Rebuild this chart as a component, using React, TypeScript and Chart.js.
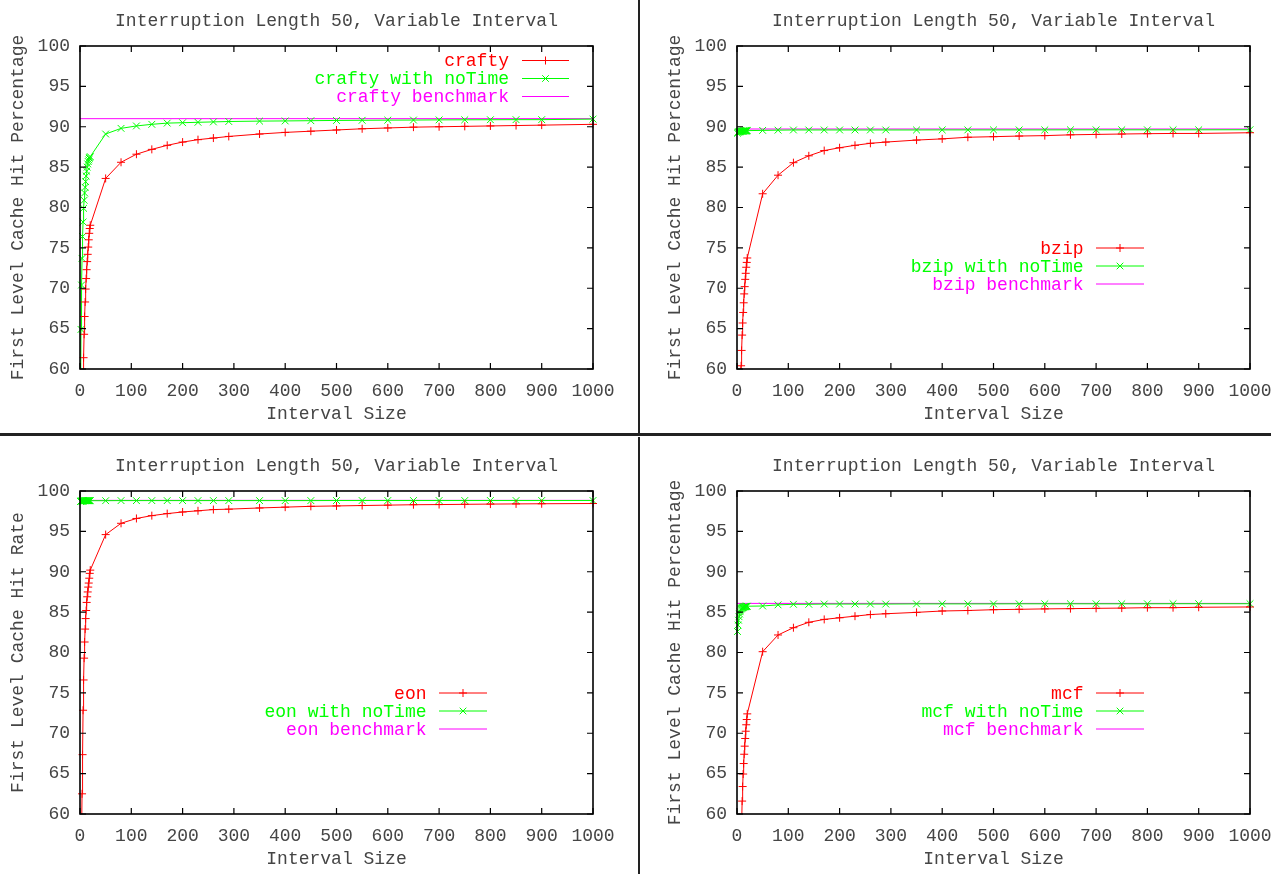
import React, { useEffect, useRef } from 'react';
import { Chart, registerables } from 'chart.js';

Chart.register(...registerables);

// ---------- data ----------
const intervalSizes = [
  1, 2, 3, 4, 5, 6, 7, 8, 9, 10, 11, 12, 13, 14, 15, 16, 17, 18, 19, 20,
  50, 80, 110, 140, 170, 200, 230, 260, 290, 350, 400, 450, 500, 550, 600, 650, 700, 750, 800, 850, 900, 1000,
];
const benchmarkX = [0, 1000];

const craftyHit = [
  25, 38, 46, 52, 56, 59, 61.4, 64.3, 66.5, 68.3, 69.9, 71.2, 72.3, 73.3, 74.2, 75.1, 76.0, 76.8, 77.4, 77.8,
  83.6, 85.6, 86.6, 87.2, 87.7, 88.1, 88.4, 88.6, 88.8, 89.1, 89.3, 89.45, 89.6, 89.75, 89.85, 89.95, 90.0, 90.05, 90.1, 90.15, 90.2, 90.3,
];
const craftyNoTime = [
  55, 64.9, 70.4, 73.7, 76.4, 78.2, 79.9, 80.9, 81.8, 82.5, 83.2, 83.9, 84.5, 85.0, 85.4, 85.7, 85.9, 86.1, 86.2, 86.3,
  89.1, 89.8, 90.1, 90.3, 90.45, 90.5, 90.55, 90.6, 90.65, 90.7, 90.72, 90.75, 90.78, 90.8, 90.82, 90.83, 90.85, 90.86, 90.87, 90.88, 90.88, 90.95,
];
const craftyBenchmark = [91.0, 91.0];

const bzipHit = [
  30, 40, 47, 52, 55.5, 58, 59.5, 60.4, 62.3, 64.2, 65.7, 67.0, 68.2, 69.3, 70.2, 71.1, 71.85, 72.6, 73.2, 73.75,
  81.7, 84.0, 85.55, 86.4, 87.05, 87.4, 87.7, 87.95, 88.1, 88.35, 88.5, 88.7, 88.77, 88.85, 88.9, 89.0, 89.05, 89.1, 89.14, 89.17, 89.17, 89.26,
];
const bzipNoTime = [
  89.2, 89.3, 89.35, 89.38, 89.4, 89.42, 89.43, 89.44, 89.45, 89.45, 89.46, 89.47, 89.48, 89.48, 89.49, 89.5, 89.5, 89.5, 89.51, 89.52,
  89.55, 89.58, 89.6, 89.6, 89.6, 89.6, 89.6, 89.6, 89.6, 89.6, 89.61, 89.61, 89.61, 89.61, 89.61, 89.62, 89.62, 89.62, 89.62, 89.62, 89.62, 89.63,
];
const bzipBenchmark = [89.72, 89.72];

const eonHit = [
  35, 50, 57, 62.5, 67.35, 72.85, 76.6, 79.3, 81.3, 82.9, 84.2, 85.2, 86.2, 86.9, 87.5, 88.1, 88.6, 89.2, 89.8, 90.2,
  94.6, 96.0, 96.6, 96.95, 97.2, 97.4, 97.55, 97.7, 97.75, 97.9, 98.0, 98.1, 98.15, 98.2, 98.25, 98.3, 98.32, 98.35, 98.38, 98.4, 98.42, 98.45,
];
const eonNoTime = [
  98.7, 98.74, 98.76, 98.77, 98.78, 98.78, 98.79, 98.79, 98.79, 98.8, 98.8, 98.8, 98.8, 98.8, 98.8, 98.8, 98.8, 98.8, 98.8, 98.8,
  98.8, 98.81, 98.81, 98.81, 98.81, 98.81, 98.81, 98.81, 98.81, 98.81, 98.81, 98.81, 98.82, 98.82, 98.82, 98.82, 98.82, 98.82, 98.82, 98.82, 98.82, 98.82,
];
const eonBenchmark = [98.84, 98.84];

const mcfHit = [
  15, 25, 33, 40, 45, 49, 52.5, 55.5, 58.5, 61.6, 63.4, 64.95, 66.25, 67.4, 68.4, 69.35, 70.25, 71.05, 71.7, 72.4,
  80.1, 82.17, 83.07, 83.74, 84.1, 84.3, 84.5, 84.7, 84.8, 84.97, 85.14, 85.2, 85.3, 85.35, 85.4, 85.43, 85.47, 85.5, 85.55, 85.55, 85.6, 85.64,
];
const mcfNoTime = [
  82.6, 83.4, 84.0, 84.43, 84.77, 85.05, 85.26, 85.4, 85.47, 85.52, 85.56, 85.6, 85.62, 85.64, 85.66, 85.68, 85.7, 85.71, 85.72, 85.73,
  85.76, 85.9, 85.97, 85.97, 86.0, 86.0, 86.0, 86.0, 86.0, 86.02, 86.02, 86.02, 86.02, 86.03, 86.03, 86.03, 86.03, 86.03, 86.03, 86.04, 86.04, 86.04,
];
const mcfBenchmark = [86.08, 86.08];

const chartTitle = 'Interruption Length 50, Variable Interval';
const xTitle = 'Interval Size';

// ---------- styling ----------
const FONT = '"Liberation Mono", "DejaVu Sans Mono", monospace';
const TEXT = '#454545';
const RED = '#ff0000';
const GREEN = '#00ff00';
const MAGENTA = '#ff00ff';
const CW = 637;
const CH = 432;

type LegendOpts = { textRight: number; sampleLeft: number; sampleRight: number; top: number; gap: number };

const framePlugin = {
  id: 'gnuFrame',
  afterDatasetsDraw(chart: any) {
    const { ctx, chartArea: a, scales } = chart;
    const L = 6;
    ctx.save();
    ctx.strokeStyle = '#000';
    ctx.lineWidth = 1.6;
    ctx.strokeRect(a.left, a.top, a.right - a.left, a.bottom - a.top);
    ctx.lineWidth = 1.2;
    ctx.beginPath();
    scales.x.ticks.forEach((t: any) => {
      const px = scales.x.getPixelForValue(t.value);
      ctx.moveTo(px, a.bottom);
      ctx.lineTo(px, a.bottom - L);
      ctx.moveTo(px, a.top);
      ctx.lineTo(px, a.top + L);
    });
    scales.y.ticks.forEach((t: any) => {
      const py = scales.y.getPixelForValue(t.value);
      ctx.moveTo(a.left, py);
      ctx.lineTo(a.left + L, py);
      ctx.moveTo(a.right, py);
      ctx.lineTo(a.right - L, py);
    });
    ctx.stroke();
    ctx.restore();
  },
};

const legendPlugin = {
  id: 'gnuLegend',
  afterDraw(chart: any, _args: any, opts: LegendOpts) {
    const { ctx } = chart;
    ctx.save();
    ctx.font = `18px ${FONT}`;
    ctx.textAlign = 'right';
    ctx.textBaseline = 'middle';
    chart.data.datasets.forEach((ds: any, i: number) => {
      const y = opts.top + i * opts.gap;
      ctx.fillStyle = ds.borderColor;
      ctx.fillText(ds.label, opts.textRight, y + 1);
      ctx.strokeStyle = ds.borderColor;
      ctx.lineWidth = 1;
      ctx.beginPath();
      ctx.moveTo(opts.sampleLeft, y);
      ctx.lineTo(opts.sampleRight, y);
      const cx = (opts.sampleLeft + opts.sampleRight) / 2;
      if (ds.pointStyle === 'cross') {
        ctx.moveTo(cx - 4, y);
        ctx.lineTo(cx + 4, y);
        ctx.moveTo(cx, y - 4);
        ctx.lineTo(cx, y + 4);
      } else if (ds.pointStyle === 'crossRot') {
        ctx.moveTo(cx - 3.3, y - 3.3);
        ctx.lineTo(cx + 3.3, y + 3.3);
        ctx.moveTo(cx - 3.3, y + 3.3);
        ctx.lineTo(cx + 3.3, y - 3.3);
      }
      ctx.stroke();
    });
    ctx.restore();
  },
};

type Panel = {
  name: string;
  yTitle: string;
  hit: number[];
  noTime: number[];
  bench: number[];
  legend: LegendOpts;
  left: number;
  top: number;
};

const panels: Panel[] = [
  { name: 'crafty', yTitle: 'First Level Cache Hit Percentage', hit: craftyHit, noTime: craftyNoTime, bench: craftyBenchmark,
    legend: { textRight: 509, sampleLeft: 522, sampleRight: 569, top: 60.5, gap: 18 }, left: 0, top: 0 },
  { name: 'bzip', yTitle: 'First Level Cache Hit Percentage', hit: bzipHit, noTime: bzipNoTime, bench: bzipBenchmark,
    legend: { textRight: 426.5, sampleLeft: 439, sampleRight: 487, top: 248, gap: 18 }, left: 657, top: 0 },
  { name: 'eon', yTitle: 'First Level Cache Hit Rate', hit: eonHit, noTime: eonNoTime, bench: eonBenchmark,
    legend: { textRight: 426.5, sampleLeft: 439, sampleRight: 487, top: 248, gap: 18 }, left: 0, top: 445 },
  { name: 'mcf', yTitle: 'First Level Cache Hit Percentage', hit: mcfHit, noTime: mcfNoTime, bench: mcfBenchmark,
    legend: { textRight: 426.5, sampleLeft: 439, sampleRight: 487, top: 248, gap: 18 }, left: 657, top: 445 },
];

function toPoints(xs: number[], ys: number[]) {
  return xs.map((x, i) => ({ x, y: ys[i] }));
}

const clipBox = { left: 6, top: 6, right: 6, bottom: 0 };

function PanelChart({ p }: { p: Panel }) {
  const ref = useRef<HTMLCanvasElement | null>(null);
  useEffect(() => {
    if (!ref.current) return;
    const font = { family: FONT, size: 18, weight: 'normal' as const, lineHeight: 1.2 };
    const chart = new Chart(ref.current, {
      type: 'line',
      data: {
        datasets: [
          {
            label: p.name,
            data: toPoints(intervalSizes, p.hit),
            borderColor: RED,
            backgroundColor: RED,
            borderWidth: 1,
            pointStyle: 'cross',
            pointRadius: 4,
            pointBorderWidth: 1,
            pointBorderColor: RED,
            tension: 0,
            clip: clipBox,
          },
          {
            label: `${p.name} with noTime`,
            data: toPoints(intervalSizes, p.noTime),
            borderColor: GREEN,
            backgroundColor: GREEN,
            borderWidth: 1,
            pointStyle: 'crossRot',
            pointRadius: 4.8,
            pointBorderWidth: 1,
            pointBorderColor: GREEN,
            tension: 0,
            clip: clipBox,
          },
          {
            label: `${p.name} benchmark`,
            data: toPoints(benchmarkX, p.bench),
            borderColor: MAGENTA,
            backgroundColor: MAGENTA,
            borderWidth: 1,
            pointRadius: 0,
            tension: 0,
            clip: clipBox,
          },
        ],
      } as any,
      options: {
        animation: false,
        responsive: false,
        devicePixelRatio: 1,
        events: [],
        layout: { padding: { left: 0, right: 44, top: 0, bottom: 0 } },
        plugins: {
          legend: { display: false },
          tooltip: { enabled: false },
          title: {
            display: true,
            text: chartTitle,
            fullSize: false,
            color: TEXT,
            font,
            padding: { top: 10.2, bottom: 14.2 },
          },
          gnuLegend: p.legend,
        } as any,
        scales: {
          x: {
            type: 'linear',
            min: 0,
            max: 1000,
            ticks: {
              stepSize: 100,
              autoSkip: false,
              maxRotation: 0,
              padding: 11,
              color: TEXT,
              font,
              callback: (v: any) => String(v),
            },
            grid: { display: false, drawTicks: false },
            border: { display: false },
            title: { display: true, text: xTitle, color: TEXT, font, padding: { top: 0, bottom: 7 } },
            afterFit: (s: any) => { s.height = 63; },
          },
          y: {
            type: 'linear',
            min: 60,
            max: 100,
            ticks: { stepSize: 5, padding: 10, color: TEXT, font, callback: (v: any) => String(v) },
            grid: { display: false, drawTicks: false },
            border: { display: false },
            title: { display: true, text: p.yTitle, color: TEXT, font, padding: { top: 7.5, bottom: 0 } },
            afterFit: (s: any) => { s.width = 80; },
          },
        },
      } as any,
      plugins: [framePlugin, legendPlugin],
    });
    return () => chart.destroy();
  }, [p]);
  return (
    <canvas
      ref={ref}
      width={CW}
      height={CH}
      style={{ position: 'absolute', left: p.left, top: p.top, width: CW, height: CH }}
    />
  );
}

export default function App() {
  return (
    <div
      style={{
        position: 'fixed',
        left: 0,
        top: 0,
        width: 1271,
        height: 874,
        overflow: 'hidden',
        background: '#ffffff',
      }}
    >
      {panels.map((p) => (
        <PanelChart key={p.name} p={p} />
      ))}
      <div style={{ position: 'absolute', left: 0, top: 433, width: 1271, height: 3, background: '#222' }} />
      <div style={{ position: 'absolute', left: 638, top: 0, width: 2, height: 433, background: '#222' }} />
      <div style={{ position: 'absolute', left: 638, top: 437, width: 2, height: 437, background: '#222' }} />
    </div>
  );
}
